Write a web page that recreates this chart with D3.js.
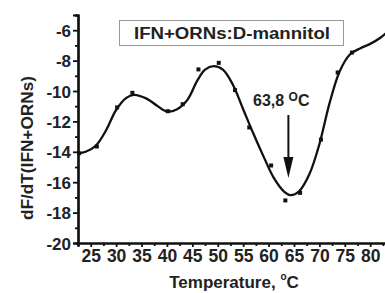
<!DOCTYPE html>
<html>
<head>
<meta charset="utf-8">
<script src="https://cdn.jsdelivr.net/npm/d3@7"></script>
<style>
  html, body { margin: 0; padding: 0; background: #fff; }
  svg { display: block; }
  text { font-family: "Liberation Sans", Arial, sans-serif; font-weight: bold; fill: #222; }
</style>
</head>
<body>
<div id="chart"></div>
<script>
// measured points (markers)
const pointTemps = [22.7, 26.2, 30.2, 33.2, 40.2, 43.1, 46.2, 50.2, 53.4, 56.2, 60.5, 63.3, 66.2, 70.3, 73.6, 76.4];
const pointVals  = [-14.1, -13.65, -11.08, -10.12, -11.33, -10.87, -8.58, -8.15, -9.94, -12.4, -14.9, -17.2, -16.7, -13.2, -8.78, -7.47];

// smoothed fit curve
const fitTemps = [22.5, 24, 26, 28, 30, 32, 33.5, 36, 38, 40, 42, 44, 46, 47.5, 49.2, 51, 53, 55, 57, 59, 61, 63, 64.3, 66, 68, 70, 72, 74, 76, 78, 80, 82, 84];
const fitVals  = [-14.1, -14.0, -13.6, -12.6, -11.25, -10.45, -10.25, -10.5, -10.95, -11.35, -11.2, -10.6, -9.3, -8.6, -8.37, -8.6, -9.6, -11.2, -12.8, -14.3, -15.7, -16.6, -16.85, -16.6, -15.5, -13.5, -10.8, -8.7, -7.6, -7.2, -6.9, -6.5, -5.9];

const xTicks = [25, 30, 35, 40, 45, 50, 55, 60, 65, 70, 75, 80];
const yTicks = [-20, -18, -16, -14, -12, -10, -8, -6];
const legendLabel = "IFN+ORNs:D-mannitol";
const peakLabel = "63,8 ";
const peakTemp = 63.8;

const width = 385, height = 293;
const svg = d3.select("#chart").append("svg").attr("width", width).attr("height", height);

const x = d3.scaleLinear().domain([22.5, 83.5]).range([78, 388]);
const y = d3.scaleLinear().domain([-20, -5]).range([243, 15]);

// axes
const xAxis = d3.axisBottom(x).tickValues(xTicks).tickSize(4).tickPadding(3).tickFormat(d3.format("d"));
const xMinor = d3.axisBottom(x).tickValues(d3.range(22.5, 84, 2.5).filter(v => v % 5 !== 0)).tickSize(3).tickFormat("");
const yAxis = d3.axisLeft(y).tickValues(yTicks).tickSize(5).tickPadding(2).tickFormat(d3.format("d"));
const yMinor = d3.axisLeft(y).tickValues(d3.range(-19, -4, 2)).tickSize(3).tickFormat("");

const gx = svg.append("g").attr("transform", `translate(0,${y(-20)})`).call(xAxis);
svg.append("g").attr("transform", `translate(0,${y(-20)})`).call(xMinor);
const gy = svg.append("g").attr("transform", `translate(${x(22.5)},0)`).call(yAxis);
svg.append("g").attr("transform", `translate(${x(22.5)},0)`).call(yMinor);

svg.selectAll(".domain").attr("stroke", "#111").attr("stroke-width", 2.2);
svg.selectAll(".tick line").attr("stroke", "#111").attr("stroke-width", 1.8);
gx.selectAll("text").style("font-size", "17.5px").attr("fill", "#222");
gy.selectAll("text").style("font-size", "17px").attr("fill", "#222").attr("dy", "0.36em")
  .text(d => "-" + Math.abs(d));

// axis titles
const xt = svg.append("text").attr("x", 234).attr("y", 288).attr("text-anchor", "middle").style("font-size", "17px");
xt.append("tspan").text("Temperature, ");
xt.append("tspan").text("o").style("font-size", "10px").attr("dy", -8);
xt.append("tspan").text("C").attr("dy", 8);

svg.append("text")
  .attr("transform", `translate(33,148) rotate(-90)`)
  .attr("text-anchor", "middle")
  .style("font-size", "17px")
  .attr("textLength", 144).attr("lengthAdjust", "spacingAndGlyphs")
  .text("dF/dT(IFN+ORNs)");

// fit curve
const line = d3.line()
  .x((d, i) => x(fitTemps[i]))
  .y(d => y(d))
  .curve(d3.curveCatmullRom.alpha(0.5));

svg.append("path")
  .datum(fitVals)
  .attr("d", line)
  .attr("fill", "none")
  .attr("stroke", "#111")
  .attr("stroke-width", 2.3);

// markers
svg.append("g").selectAll("rect")
  .data(pointVals)
  .join("rect")
  .attr("x", (d, i) => x(pointTemps[i]) - 2)
  .attr("y", d => y(d) - 2)
  .attr("width", 4)
  .attr("height", 4)
  .attr("fill", "#111");

// legend box
svg.append("rect")
  .attr("x", 119.5).attr("y", 20.5).attr("width", 224).attr("height", 25)
  .attr("fill", "#fff").attr("stroke", "#999").attr("stroke-width", 1);
svg.append("text")
  .attr("x", 232).attr("y", 39).attr("text-anchor", "middle")
  .style("font-size", "16px")
  .attr("textLength", 196).attr("lengthAdjust", "spacingAndGlyphs")
  .text(legendLabel);

// peak annotation
const pk = svg.append("text").attr("x", 253).attr("y", 106).style("font-size", "16px");
pk.append("tspan").text(peakLabel);
pk.append("tspan").text("O").style("font-size", "12px").attr("dy", -5);
pk.append("tspan").text("C").attr("dy", 5);

const ax = x(peakTemp) + 0.5;
svg.append("line")
  .attr("x1", ax).attr("x2", ax).attr("y1", 115).attr("y2", 160)
  .attr("stroke", "#111").attr("stroke-width", 2);
svg.append("path")
  .attr("d", `M${ax - 5},157 L${ax + 5},157 L${ax},178 Z`)
  .attr("fill", "#111");
</script>
</body>
</html>
